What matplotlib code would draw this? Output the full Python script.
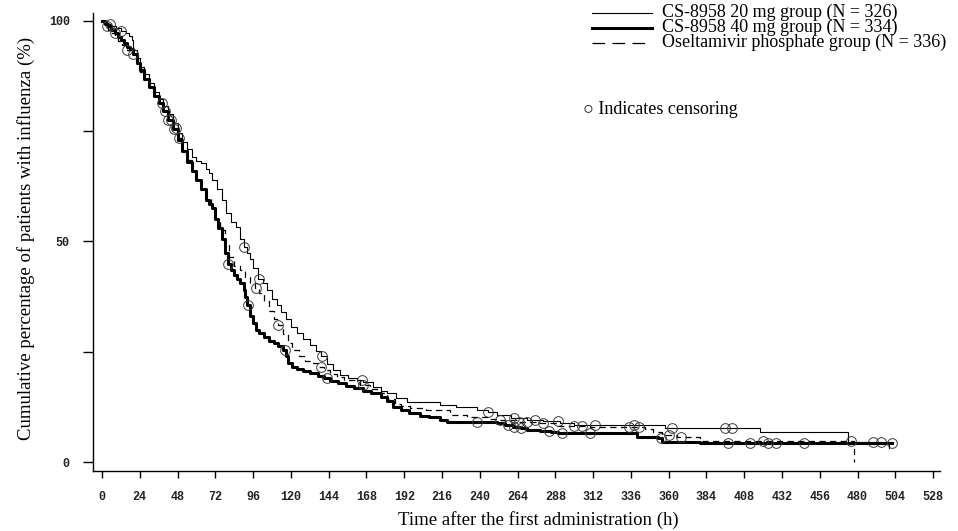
import matplotlib
matplotlib.use("Agg")
import matplotlib.pyplot as plt
from matplotlib.lines import Line2D
import numpy as np

# Kaplan-Meier style step curves: (hours, % still with influenza)
t_20mg = [0, 3, 6, 9, 12, 15, 17, 19, 20, 22, 24, 27, 30, 33, 36, 39, 42, 45, 48,
          51, 54, 57, 60, 63, 66, 68, 70, 73, 76, 79, 82, 85, 88, 90, 92, 94, 96,
          99, 102, 105, 108, 111, 114, 117, 120, 124, 128, 132, 136, 139, 143, 147,
          151, 156, 162, 166, 172, 177, 181, 187, 194, 215, 225, 238, 245, 251, 260,
          270, 280, 291, 300, 358, 418, 474, 500]
v_20mg = [100, 99.4, 98.8, 98.3, 97.8, 97.2, 96.5, 95.7, 93.4, 91.5, 89.6, 88, 86,
          84, 82.4, 80.8, 78.8, 76.8, 74.6, 72.5, 71, 69.2, 68.3, 67.8, 66.5, 65.5,
          64, 62, 59.5, 56.5, 54.5, 53.3, 50.5, 48.8, 47.5, 46, 44, 41.5, 40.5, 39,
          37, 35.5, 34, 32.5, 30.5, 29.3, 28, 26.5, 25.2, 24, 22.2, 20.9, 19.8, 19,
          18.6, 18.1, 17, 16, 15.6, 14.5, 13.6, 12.9, 12.5, 11.8, 11.3, 10.7, 10,
          9.5, 9.2, 8.8, 8.3, 7.8, 6.9, 4.6, 3.2]

t_40mg = [0, 2, 4, 6, 8, 10, 12, 14, 16, 18, 20, 22, 24, 27, 30, 33, 36, 39, 42,
          45, 48, 51, 54, 57, 60, 63, 66, 68, 70, 72, 74, 76, 78, 80, 82, 84, 86,
          88, 90, 91, 92, 94, 96, 98, 100, 103, 106, 109, 112, 115, 117, 118, 121,
          124, 128, 132, 137, 141, 145, 150, 155, 160, 166, 171, 177, 181, 185, 190,
          195, 202, 208, 215, 219, 251, 256, 261, 266, 270, 278, 285, 290, 295, 337,
          340, 353, 356, 375, 380, 502]
v_40mg = [100, 99.4, 98.8, 98, 97.2, 96.4, 95.6, 94.9, 94.2, 93.6, 92.5, 90.5, 88.8,
          86.8, 85, 83, 81.5, 79.5, 77.5, 75.5, 73, 70.5, 68, 66, 64, 62, 59.5, 58.5,
          57.5, 55, 53, 50.5, 47.5, 45, 43.5, 42.5, 41.5, 40.5, 39, 37.5, 35.5, 33,
          31.5, 30, 29.3, 28.3, 27.5, 27, 26.3, 25.4, 24, 22.4, 21.6, 21, 20.6, 20.2,
          19.6, 19, 18.3, 17.9, 17.3, 16.8, 16.2, 15.6, 14.7, 13.9, 12.5, 11.8, 11.2,
          10.5, 10.2, 9.5, 9.1, 8.8, 8.4, 7.9, 7.6, 7.3, 7.1, 6.8, 6.6, 6.6, 6.6,
          5.7, 5.4, 4.5, 4.5, 4.4, 4.4]

t_osel = [0, 2, 4, 6, 8, 10, 13, 16, 19, 22, 24, 27, 30, 33, 36, 39, 42, 45, 48,
          51, 54, 57, 60, 63, 66, 69, 72, 75, 78, 81, 84, 88, 91, 94, 97, 100, 103,
          106, 109, 112, 115, 118, 121, 125, 129, 133, 137, 141, 145, 149, 154, 164,
          170, 175, 181, 186, 190, 196, 206, 221, 232, 245, 251, 264, 278, 290, 310,
          345, 350, 356, 365, 380, 478]
v_osel = [100, 98.8, 98, 97.3, 96.5, 95.5, 94.5, 93.5, 92.6, 90.5, 88.5, 86.6, 84.8,
          83, 81.3, 79.5, 77.6, 75.7, 73.5, 71, 68.5, 66.3, 64, 62, 59.8, 57.5, 55,
          52.5, 49.5, 46.5, 44.5, 43.5, 42, 40.6, 39.5, 38.3, 36.5, 34.3, 32.5, 31,
          29, 27, 25.5, 24, 23, 22.4, 21.6, 20.9, 20, 19.3, 18.6, 17.5, 16.6, 15.6,
          14.3, 13.2, 12.6, 12.2, 11.8, 10.7, 10.2, 9.8, 9.5, 9.1, 8.8, 8.2, 7.9,
          7.5, 6.9, 6.2, 5.7, 4.8, 0]

# censoring times for each group
cens_20mg = [5, 12, 90, 100, 140, 165, 245, 262, 275, 290, 313, 338, 362, 396, 400,
             490, 495]
cens_40mg = [8, 20, 42, 44, 46, 80, 93, 116, 143, 238, 258, 262, 266, 284, 292, 310,
             355, 398, 412, 423, 428, 446, 502]
cens_osel = [3, 16, 38, 40, 47, 49, 98, 112, 139, 166, 253, 265, 270, 280, 300, 305,
             335, 341, 360, 368, 420, 476]

labels = ["CS-8958 20 mg group (N = 326)",
          "CS-8958 40 mg group (N = 334)",
          "Oseltamivir phosphate group (N = 336)"]
x_ticks = list(range(0, 529, 24))
y_ticks = [0, 25, 50, 75, 100]
y_ticklabels = ["0", "", "50", "", "100"]

W, H = 958, 531
serif = ["Liberation Serif", "DejaVu Serif"]
tick_font = dict(family="Liberation Mono", size=8.5, weight="bold")


def step_value(times, values, t):
    idx = np.searchsorted(times, t, side="right") - 1
    return np.asarray(values)[idx]


fig = plt.figure(figsize=(W / 100, H / 100), dpi=100)
ax = fig.add_axes([93 / W, 1 - 470.7 / H, (940 - 93) / W, (470.7 - 13) / H])

styles = [dict(lw=0.8, ls="-"), dict(lw=2.2, ls="-"), dict(lw=0.9, ls=(0, (5, 3.5)))]
legend_styles = [dict(lw=0.8, ls="-"), dict(lw=2.2, ls="-"),
                 dict(lw=0.9, ls=(0, (10, 6)))]
series = [(t_20mg, v_20mg, cens_20mg), (t_40mg, v_40mg, cens_40mg),
          (t_osel, v_osel, cens_osel)]

for (t, v, cens), st in zip(series, styles):
    ax.step(t, v, where="post", color="black", **st)
    ax.plot(cens, step_value(t, v, cens), "o", ms=7, mfc="none",
            mec="#3a3a3a", mew=0.7, ls="none")

ax.set_xlim(-5.7, 532.4)
ax.set_ylim(-1.97, 101.8)
for s in ("top", "right"):
    ax.spines[s].set_visible(False)
for s in ("left", "bottom"):
    ax.spines[s].set_linewidth(1.0)

ax.set_xticks(x_ticks)
ax.set_xticklabels([str(x) for x in x_ticks], fontdict=tick_font, color="#222")
ax.set_yticks(y_ticks)
ax.set_yticklabels(y_ticklabels, fontdict=tick_font, color="#222")
ax.tick_params(axis="x", direction="out", length=4.8, width=1.0, pad=10)
ax.tick_params(axis="y", direction="out", length=7.2, width=1.0, pad=9.5)

# axis titles
fig.text(398 / W, 1 - 520 / H, "Time after the first administration (h)",
         family=serif, size=13.5, ha="left", va="center")
fig.text(26 / W, 1 - 37 / H,
         "Cumulative percentage of patients with influenza (%)",
         family=serif, size=13.5, rotation=90, ha="center", va="top")

# legend
rows_y = [13, 28, 43]
for y, st, lab in zip(rows_y, legend_styles, labels):
    fig.add_artist(Line2D([592 / W, 652 / W], [1 - y / H, 1 - y / H],
                          color="black", transform=fig.transFigure, **st))
    fig.text(662 / W, 1 - (y - 1) / H, lab, family=serif, size=13,
             ha="left", va="center")
fig.text(583 / W, 1 - 109 / H, "\u25cb Indicates censoring", family=serif,
         size=13, ha="left", va="center")

fig.savefig("out.png", dpi=100)
